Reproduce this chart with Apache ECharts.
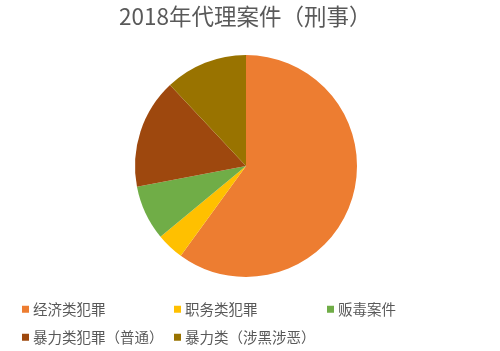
<!DOCTYPE html>
<html>
<head>
<meta charset="utf-8">
<script src="https://cdn.jsdelivr.net/npm/echarts@6/dist/echarts.min.js"></script>
<style>
  html, body { margin: 0; padding: 0; background: #fff; }
  #chart { width: 500px; height: 351px; }
</style>
</head>
<body>
<div id="chart"></div>
<script>
const chartTitle = '2018年代理案件（刑事）';
const categories = ['经济类犯罪', '职务类犯罪', '贩毒案件', '暴力类犯罪（普通）', '暴力类（涉黑涉恶）'];
const caseCounts = [15, 1, 2, 4, 3];
const sliceColors = ['#ED7D31', '#FFC000', '#70AD47', '#9E480E', '#997300'];

// legend slots: [left, top]
const legendSlots = [[22, 302], [174, 302], [327, 302], [22, 330], [174, 330]];

const font = '"Noto Sans CJK SC", "Noto Sans", sans-serif';

const chart = echarts.init(document.getElementById('chart'), null, { renderer: 'canvas' });

chart.setOption({
  animation: false,
  color: sliceColors,
  title: {
    text: chartTitle,
    left: 114,
    top: 0,
    textStyle: { fontSize: 22.5, fontWeight: 'normal', color: '#595959', fontFamily: font }
  },
  legend: categories.map((name, i) => ({
    data: [name],
    left: legendSlots[i][0],
    top: legendSlots[i][1],
    padding: 0,
    itemWidth: 7,
    itemHeight: 7,
    itemGap: 0,
    icon: 'rect',
    textStyle: { fontSize: 14.5, color: '#595959', fontFamily: font, padding: [0, 0, 0, -1] }
  })),
  series: [{
    type: 'pie',
    center: [246, 166],
    radius: 111,
    startAngle: 90,
    clockwise: true,
    label: { show: false },
    labelLine: { show: false },
    emphasis: { disabled: true },
    data: categories.map((name, i) => ({ name, value: caseCounts[i] }))
  }]
});
</script>
</body>
</html>
